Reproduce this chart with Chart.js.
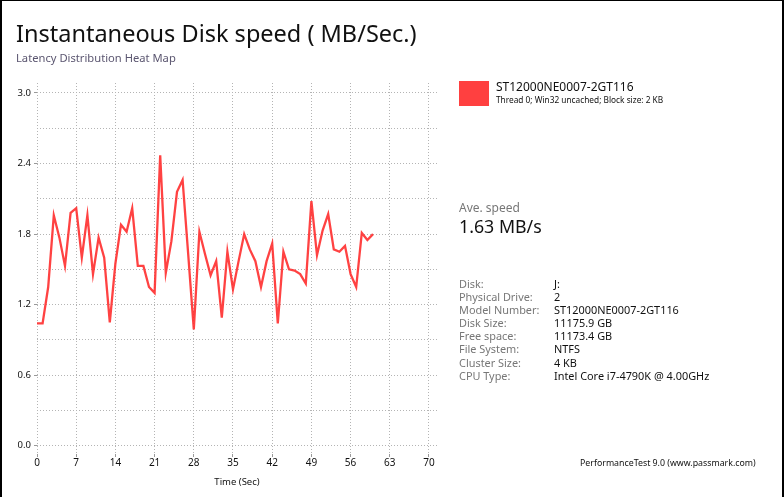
<!DOCTYPE html>
<html lang="en">
<head>
  <meta charset="UTF-8" />
  <title>Instantaneous Disk speed</title>
  <script src="https://cdn.jsdelivr.net/npm/chart.js"></script>
  <style>
    * { box-sizing: border-box; }

    html, body {
      margin: 0;
      padding: 0;
      width: 784px;
      height: 497px;
      overflow: hidden;
      background: #fff;
      font-family: "Noto Sans", "Open Sans", sans-serif;
    }

    #quadro {
      position: relative;
      width: 784px;
      height: 497px;
      border-left: 2px solid #000;
      border-top: 1px solid #000;
      border-right: 2px solid #000;
    }

    #grafico {
      position: absolute;
      left: 0;
      top: 0;
    }

    .titulo {
      position: absolute;
      left: 14px;
      top: 16px;
      font-size: 23.5px;
      color: #111;
      white-space: nowrap;
    }

    .subtitulo {
      position: absolute;
      left: 14px;
      top: 49px;
      font-size: 11.2px;
      color: #5b5670;
      white-space: nowrap;
    }

    .legenda {
      position: absolute;
      left: 457px;
      top: 79px;
    }
    .legenda .cor {
      position: absolute;
      left: 0;
      top: 1px;
      width: 30px;
      height: 25px;
      background: #ff4040;
    }
    .legenda .nome {
      position: absolute;
      left: 37px;
      top: -2px;
      font-size: 12px;
      color: #111;
      white-space: nowrap;
    }
    .legenda .detalhe {
      position: absolute;
      left: 37px;
      top: 14px;
      font-size: 8.3px;
      color: #111;
      white-space: nowrap;
    }

    .media {
      position: absolute;
      left: 457px;
      top: 198px;
    }
    .media .rotulo { font-size: 12px; color: #777; }
    .media .valor { font-size: 17.8px; color: #111; margin-top: -2px; }

    .info {
      position: absolute;
      left: 457px;
      top: 276px;
      font-size: 10.9px;
      line-height: 13.1px;
      border-collapse: collapse;
    }
    .info td { padding: 0; white-space: nowrap; }
    .info td.k { color: #777; width: 95px; }
    .info td.v { color: #111; }

    .rodape {
      position: absolute;
      left: 578px;
      top: 456px;
      font-size: 8.8px;
      color: #111;
      white-space: nowrap;
    }
  </style>
</head>
<body>
  <div id="quadro">
    <canvas id="grafico" width="780" height="496"></canvas>
    <div class="titulo">Instantaneous Disk speed ( MB/Sec.)</div>
    <div class="subtitulo">Latency Distribution Heat Map</div>

    <div class="legenda">
      <div class="cor"></div>
      <div class="nome">ST12000NE0007-2GT116</div>
      <div class="detalhe">Thread 0; Win32 uncached; Block size: 2 KB</div>
    </div>

    <div class="media">
      <div class="rotulo">Ave. speed</div>
      <div class="valor">1.63 MB/s</div>
    </div>

    <table class="info" id="tabelaInfo"></table>

    <div class="rodape">PerformanceTest 9.0 (www.passmark.com)</div>
  </div>

  <script>
    // tempo (s) e velocidade (MB/s)
    const tempos = [0, 1, 2, 3, 4, 5, 6, 7, 8, 9, 10, 11, 12, 13, 14, 15, 16, 17, 18, 19,
                    20, 21, 22, 23, 24, 25, 26, 27, 28, 29, 30, 31, 32, 33, 34, 35, 36, 37, 38, 39,
                    40, 41, 42, 43, 44, 45, 46, 47, 48, 49, 50, 51, 52, 53, 54, 55, 56, 57, 58, 59, 60];
    const velocidades = [1.04, 1.04, 1.35, 1.96, 1.77, 1.53, 1.98, 2.02, 1.60, 1.96,
                         1.46, 1.77, 1.60, 1.05, 1.55, 1.88, 1.82, 2.02, 1.53, 1.53,
                         1.35, 1.30, 2.47, 1.47, 1.74, 2.16, 2.26, 1.63, 0.99, 1.82,
                         1.63, 1.45, 1.57, 1.09, 1.65, 1.33, 1.57, 1.80, 1.67, 1.57,
                         1.35, 1.57, 1.72, 1.04, 1.65, 1.50, 1.49, 1.46, 1.38, 2.08,
                         1.62, 1.83, 1.97, 1.67, 1.65, 1.70, 1.46, 1.35, 1.81, 1.75, 1.80];
    const ticksX = [0, 7, 14, 21, 28, 35, 42, 49, 56, 63, 70];
    const ticksY = [0, 0.3, 0.6, 0.9, 1.2, 1.5, 1.8, 2.1, 2.4, 2.7, 3.0];
    const rotulosY = ["0.0", "", "0.6", "", "1.2", "", "1.8", "", "2.4", "", "3.0"];

    const infoChaves = ["Disk:", "Physical Drive:", "Model Number:", "Disk Size:",
                        "Free space:", "File System:", "Cluster Size:", "CPU Type:"];
    const infoValores = ["J:", "2", "ST12000NE0007-2GT116", "11175.9 GB",
                         "11173.4 GB", "NTFS", "4 KB", "Intel Core i7-4790K @ 4.00GHz"];

    const tabela = document.getElementById("tabelaInfo");
    infoChaves.forEach((k, i) => {
      const tr = document.createElement("tr");
      tr.innerHTML = `<td class="k">${k}</td><td class="v">${infoValores[i]}</td>`;
      tabela.appendChild(tr);
    });

    const pontos = tempos.map((t, i) => ({ x: t, y: velocidades[i] }));

    new Chart(document.getElementById("grafico").getContext("2d"), {
      type: "scatter",
      data: {
        datasets: [{
          label: "ST12000NE0007-2GT116",
          data: pontos,
          showLine: true,
          borderColor: "rgba(255, 45, 45, 0.9)",
          borderWidth: 2.3,
          pointRadius: 0,
          tension: 0
        }]
      },
      options: {
        responsive: false,
        animation: false,
        layout: { padding: { top: 82, right: 345, left: 0, bottom: 9 } },
        plugins: {
          legend: { display: false },
          tooltip: { enabled: false }
        },
        scales: {
          x: {
            type: "linear",
            min: 0,
            max: 71.43,
            afterBuildTicks: s => { s.ticks = ticksX.map(v => ({ value: v })); },
            afterFit: s => { s.height = 34; },
            border: { display: false, dash: [1, 2] },
            grid: { color: "#b4b4b4", lineWidth: 1, tickLength: 3, tickColor: "#999" },
            ticks: {
              color: "#111",
              font: { family: "Noto Sans", size: 10 },
              padding: 0,
              maxRotation: 0,
              callback: v => v
            },
            title: {
              display: true,
              text: "Time (Sec)",
              color: "#111",
              font: { family: "Noto Sans", size: 9.5 },
              padding: { top: 0, bottom: 0 }
            }
          },
          y: {
            type: "linear",
            min: -0.07,
            max: 3.085,
            afterBuildTicks: s => { s.ticks = ticksY.map(v => ({ value: v })); },
            afterFit: s => { s.width = 35; },
            border: { display: false, dash: [1, 2] },
            grid: {
              color: "#b4b4b4",
              lineWidth: 1,
              tickLength: 3,
              tickColor: ctx => rotulosY[ctx.index] ? "#999" : "rgba(0,0,0,0)"
            },
            ticks: {
              color: "#111",
              font: { family: "Noto Sans", size: 9.5 },
              padding: 3,
              callback: (v, i) => rotulosY[i]
            }
          }
        }
      }
    });
  </script>
</body>
</html>
